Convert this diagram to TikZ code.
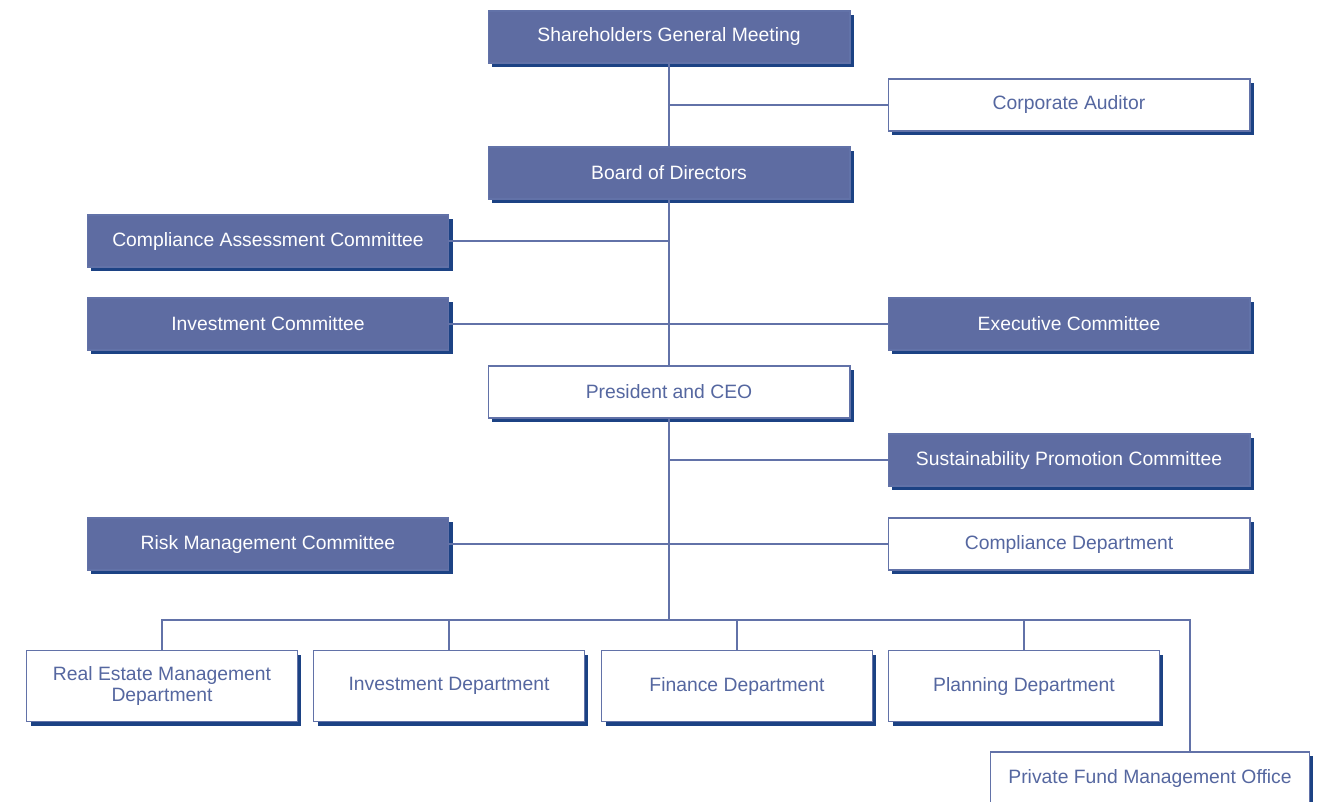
\documentclass[tikz,border=0pt]{standalone}
\usepackage{fontspec}
\setmainfont{Liberation Sans}
\definecolor{boxblue}{RGB}{94,108,162}
\definecolor{shadeblue}{RGB}{28,66,132}
\definecolor{lineblue}{RGB}{98,114,168}
\definecolor{textblue}{RGB}{85,103,160}
\usetikzlibrary{shadows}

\begin{document}
\begin{tikzpicture}[x=0.02cm,y=-0.02cm,
    unit/.style={rectangle, draw=lineblue, line width=0.6pt, font=\fontsize{11}{12}\selectfont,
        minimum width=7.24cm, minimum height=1.04cm, inner sep=2pt, align=center,
        general shadow={fill=shadeblue, shadow xshift=0.08cm, shadow yshift=-0.08cm}},
    body/.style={unit, fill=boxblue, text=white},
    office/.style={unit, fill=white, text=textblue},
    dept/.style={office, minimum width=5.42cm, minimum height=1.42cm},
    link/.style={draw=lineblue, line width=0.6pt}]
            \path[use as bounding box, clip] (0,0) rectangle (1324,801);
            % 
            \node[body] (sgm) at (669,37) {Shareholders General Meeting};
            \node[office] (audit) at (1069,105) {Corporate Auditor};
            \node[body] (bod) at (669,173) {Board of Directors};
            \node[body] (cac) at (268,241) {Compliance Assessment Committee};
            \node[body] (ic) at (268,324) {Investment Committee};
            \node[body] (exec) at (1069,324) {Executive Committee};
            \node[office] (ceo) at (669,392) {President and CEO};
            \node[body] (spc) at (1069,460) {Sustainability Promotion Committee};
            \node[body] (rmc) at (268,544) {Risk Management Committee};
            \node[office] (cdept) at (1069,544) {Compliance Department};
            
            % 
            \node[dept] (redept) at (162,686) {Real Estate Management\\Department};
            \node[dept] (idept) at (449,686) {Investment Department};
            \node[dept] (fdept) at (737,686) {Finance Department};
            \node[dept] (pdept) at (1024,686) {Planning Department};
            \node[office, minimum width=6.38cm] (pfmo) at (1150,778) {Private Fund Management Office};
            
            % Lines
            \coordinate (bus) at (669,620);
            \coordinate (busend) at (1190,620);
            \draw[link] (sgm.south) -- (bod.north);
            \draw[link] (bod.south) -- (ceo.north);
            \draw[link] (ceo.south) -- (bus);
            \draw[link] (audit.west) -- (audit.west -| sgm.south);
            \draw[link] (cac.east) -- (cac.east -| bod.south);
            \draw[link] (ic.east) -- (exec.west);
            \draw[link] (spc.west) -- (spc.west -| ceo.south);
            \draw[link] (rmc.east) -- (cdept.west);
            \draw[link] (redept.north) |- (busend) -- (busend |- pfmo.north);
            \foreach \d in {idept,fdept,pdept}
                \draw[link] (\d.north) -- (\d.north |- bus);
            
\end{tikzpicture}
\end{document}
